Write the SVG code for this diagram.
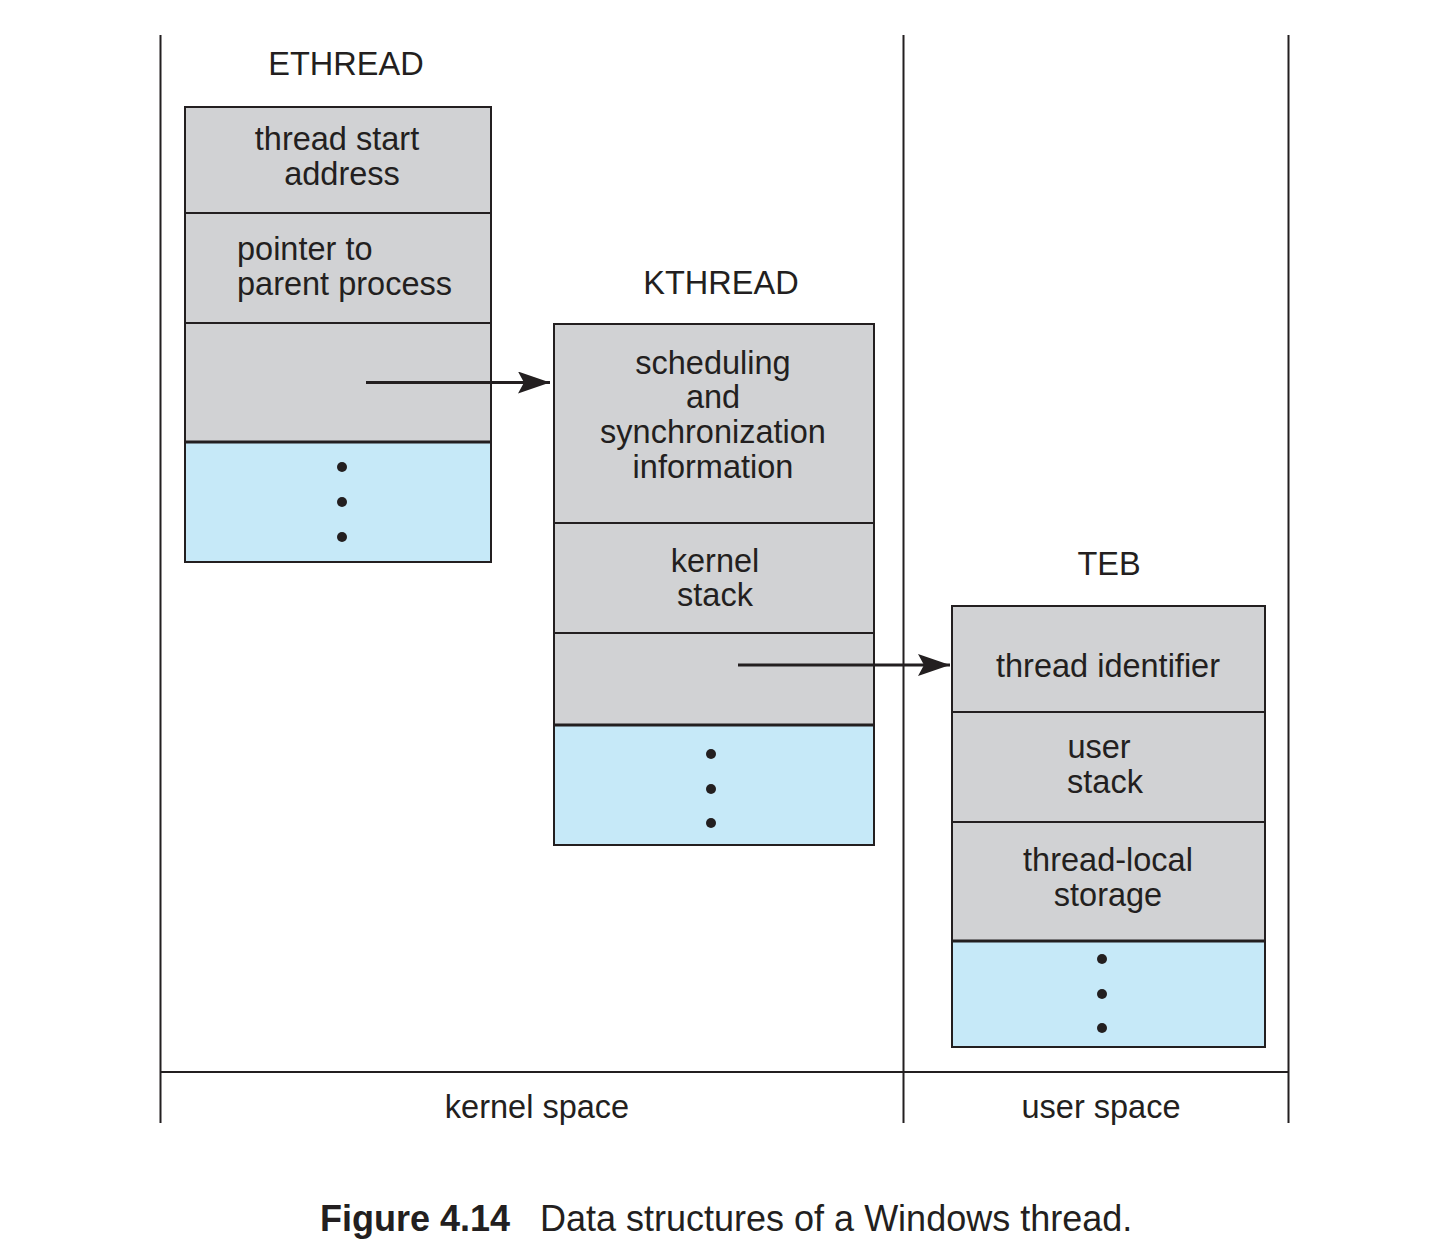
<svg xmlns="http://www.w3.org/2000/svg" width="1443" height="1244" viewBox="0 0 1443 1244">
<style>
text{font-family:"Liberation Sans",Arial,Helvetica,sans-serif;fill:#231f20;font-size:32.5px}
.m{text-anchor:middle}
.g{fill:#d1d2d4;stroke:#231f20;stroke-width:2}
.b{fill:#c6e9f8;stroke:#231f20;stroke-width:2}
.ln{stroke:#231f20;stroke-width:2;fill:none}
.dv{stroke:#231f20;stroke-width:3}
.dot{fill:#231f20}
.arr{stroke:#231f20;stroke-width:3;fill:none}
.cap{font-size:36px}
</style>
<defs>
<marker id="ah" markerUnits="userSpaceOnUse" markerWidth="34" markerHeight="24" refX="32" refY="11" orient="auto">
<path d="M0,0 L32,11 L0,22 L6,11 Z" fill="#231f20"/>
</marker>
</defs>
<g id="frame">
<line class="ln" x1="160.5" y1="35" x2="160.5" y2="1123"/>
<line class="ln" x1="903.5" y1="35" x2="903.5" y2="1123"/>
<line class="ln" x1="1288.5" y1="35" x2="1288.5" y2="1123"/>
<line class="ln" x1="160" y1="1072" x2="1289" y2="1072"/>
<text class="m" x="537" y="1118">kernel space</text>
<text class="m" x="1101" y="1118">user space</text>
</g>
<g id="ethread">
<text class="m" x="346" y="75">ETHREAD</text>
<rect class="g" x="185" y="107" width="306" height="335"/>
<rect class="b" x="185" y="442" width="306" height="120"/>
<line class="ln" x1="185" y1="213" x2="491" y2="213"/>
<line class="ln" x1="185" y1="323" x2="491" y2="323"/>
<line class="dv" x1="185" y1="442" x2="491" y2="442"/>
<text class="m" x="337" y="150">thread start</text>
<text class="m" x="342" y="185">address</text>
<text x="237" y="260">pointer to</text>
<text x="237" y="295">parent process</text>
<circle class="dot" cx="342" cy="467" r="5"/>
<circle class="dot" cx="342" cy="502" r="5"/>
<circle class="dot" cx="342" cy="537" r="5"/>
</g>
<g id="kthread">
<text class="m" x="721" y="294">KTHREAD</text>
<rect class="g" x="554" y="324" width="320" height="401"/>
<rect class="b" x="554" y="725" width="320" height="120"/>
<line class="ln" x1="554" y1="523" x2="874" y2="523"/>
<line class="ln" x1="554" y1="633" x2="874" y2="633"/>
<line class="dv" x1="554" y1="725" x2="874" y2="725"/>
<text class="m" x="713" y="374">scheduling</text>
<text class="m" x="713" y="408">and</text>
<text class="m" x="713" y="443">synchronization</text>
<text class="m" x="713" y="478">information</text>
<text class="m" x="715" y="572">kernel</text>
<text class="m" x="715" y="606">stack</text>
<circle class="dot" cx="711" cy="754" r="5"/>
<circle class="dot" cx="711" cy="789" r="5"/>
<circle class="dot" cx="711" cy="823" r="5"/>
</g>
<g id="teb">
<text class="m" x="1109" y="575">TEB</text>
<rect class="g" x="952" y="606" width="313" height="335"/>
<rect class="b" x="952" y="941" width="313" height="106"/>
<line class="ln" x1="952" y1="712" x2="1265" y2="712"/>
<line class="ln" x1="952" y1="822" x2="1265" y2="822"/>
<line class="dv" x1="952" y1="941" x2="1265" y2="941"/>
<text class="m" x="1108" y="677">thread identifier</text>
<text class="m" x="1099" y="758">user</text>
<text class="m" x="1105" y="793">stack</text>
<text class="m" x="1108" y="871">thread-local</text>
<text class="m" x="1108" y="906">storage</text>
<circle class="dot" cx="1102" cy="959" r="5"/>
<circle class="dot" cx="1102" cy="994" r="5"/>
<circle class="dot" cx="1102" cy="1028" r="5"/>
</g>
<g id="connectors">
<line class="arr" x1="366" y1="382.5" x2="550" y2="382.5" marker-end="url(#ah)"/>
<line class="arr" x1="738" y1="665" x2="950" y2="665" marker-end="url(#ah)"/>
</g>
<g id="caption">
<text class="cap" x="320" y="1231" font-weight="bold">Figure 4.14</text>
<text class="cap" x="540" y="1231">Data structures of a Windows thread.</text>
</g>
</svg>
